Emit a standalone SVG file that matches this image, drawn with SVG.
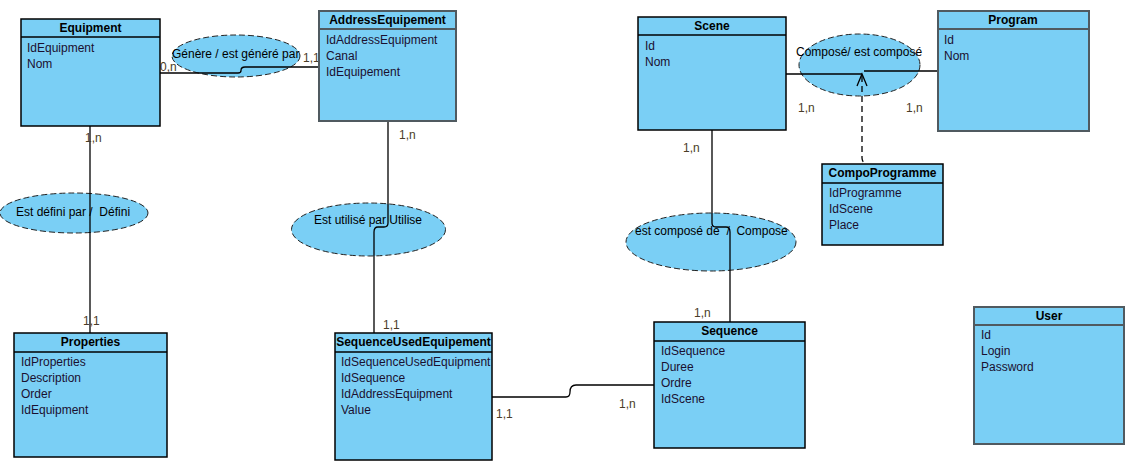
<svg xmlns="http://www.w3.org/2000/svg" width="1129" height="462" viewBox="0 0 1129 462">
<style>
.box{fill:#7acff5;stroke:#000;stroke-width:1.5}
.gbox{fill:#7acff5;stroke:#505a60;stroke-width:2}
.div{stroke:#000;stroke-width:1.5}
.gdiv{stroke:#505a60;stroke-width:2}
.title{font-family:"Liberation Sans",Arial,sans-serif;font-size:12px;font-weight:bold;fill:#000;text-anchor:middle}
.attr{font-family:"Liberation Sans",Arial,sans-serif;font-size:12px;fill:#1a1030}
.rel{fill:#7acff5;stroke:#222;stroke-width:1;stroke-dasharray:6,3}
.rtxt{font-family:"Liberation Sans",Arial,sans-serif;font-size:12px;fill:#000}
.card{font-family:"Liberation Sans",Arial,sans-serif;font-size:12px;fill:#4a3c28}
.line{fill:none;stroke:#000;stroke-width:1.3}
.dash{fill:none;stroke:#000;stroke-width:1.3;stroke-dasharray:6,4}
</style>
<rect width="1129" height="462" fill="#fff"/>

<g id="relations">
<g id="rel-genere"><ellipse class="rel" cx="236" cy="56" rx="64" ry="21"/></g>
<g id="rel-defini"><ellipse class="rel" cx="74" cy="213" rx="74" ry="20"/></g>
<g id="rel-utilise"><ellipse class="rel" cx="368.5" cy="229.5" rx="77" ry="26.5"/></g>
<g id="rel-compose"><ellipse class="rel" cx="711" cy="242" rx="85" ry="29"/></g>
<g id="rel-compose-prog"><ellipse class="rel" cx="859.5" cy="65" rx="60.5" ry="31"/></g>
</g>

<g id="connectors">
<path class="line" d="M160,73 H238 Q241,73 241,70.5 Q241,67 245,67 H319"/>
<path class="line" d="M90,126 V333"/>
<path class="line" d="M388,121 V223 Q388,227 384,227 H378 Q374,227 374,232 V333"/>
<path class="line" d="M712,130 V223 Q712,227 716,227 H726 Q730,227 730,232 V322"/>
<path class="line" d="M492,397 H566 Q570,397 570,392 Q570,385 576,385 H654"/>
<path class="line" d="M786,74 H862 M864,71 H938"/>
<path class="dash" d="M862,76 V158 Q862,162 866,164"/>
<path class="line" d="M857,86 L862,74 L867,86"/>
</g>

<g id="cardinalities">
<text class="card" x="160" y="71">0,n</text>
<text class="card" x="303" y="62">1,1</text>
<text class="card" x="85" y="142">1,n</text>
<text class="card" x="399" y="139">1,n</text>
<text class="card" x="683" y="152">1,n</text>
<text class="card" x="798" y="112">1,n</text>
<text class="card" x="906" y="112">1,n</text>
<text class="card" x="83" y="325">1,1</text>
<text class="card" x="383" y="329">1,1</text>
<text class="card" x="496" y="418">1,1</text>
<text class="card" x="619" y="408">1,n</text>
<text class="card" x="694" y="317">1,n</text>
</g>

<g id="relation-labels">
<text class="rtxt" x="172" y="57.5">Génère / est généré par</text>
<text class="rtxt" x="16" y="216" xml:space="preserve">Est défini par /  Défini</text>
<text class="rtxt" x="314" y="224">Est utilisé par Utilise</text>
<text class="rtxt" x="635" y="235" xml:space="preserve">est composé de  /  Compose</text>
<text class="rtxt" x="796" y="56">Composé/ est composé</text>
</g>

<g id="Equipment">
<rect class="box" x="21" y="19" width="139" height="107"/>
<line class="div" x1="21" y1="37" x2="160" y2="37"/>
<text class="title" x="90.5" y="31.5">Equipment</text>
<text class="attr" x="27" y="51.5">IdEquipment</text>
<text class="attr" x="27" y="67.5">Nom</text>
</g>

<g id="AddressEquipement">
<rect class="gbox" x="319" y="11" width="137" height="110"/>
<line class="gdiv" x1="319" y1="29" x2="456" y2="29"/>
<text class="title" x="387.5" y="24">AddressEquipement</text>
<text class="attr" x="326" y="44">IdAddressEquipment</text>
<text class="attr" x="326" y="60">Canal</text>
<text class="attr" x="326" y="76">IdEquipement</text>
</g>

<g id="Scene">
<rect class="box" x="638" y="17" width="148" height="113"/>
<line class="div" x1="638" y1="35" x2="786" y2="35"/>
<text class="title" x="712" y="30">Scene</text>
<text class="attr" x="645" y="50">Id</text>
<text class="attr" x="645" y="66">Nom</text>
</g>

<g id="Program">
<rect class="gbox" x="938" y="11" width="151" height="120"/>
<line class="gdiv" x1="938" y1="29" x2="1089" y2="29"/>
<text class="title" x="1013" y="24">Program</text>
<text class="attr" x="944" y="44">Id</text>
<text class="attr" x="944" y="60">Nom</text>
</g>

<g id="CompoProgramme">
<rect class="box" x="822" y="164" width="121" height="81"/>
<line class="div" x1="822" y1="183" x2="943" y2="183"/>
<text class="title" x="882.5" y="177">CompoProgramme</text>
<text class="attr" x="829" y="197">IdProgramme</text>
<text class="attr" x="829" y="213">IdScene</text>
<text class="attr" x="829" y="229">Place</text>
</g>

<g id="Properties">
<rect class="box" x="14" y="333" width="153" height="124"/>
<line class="div" x1="14" y1="352" x2="167" y2="352"/>
<text class="title" x="90.5" y="346">Properties</text>
<text class="attr" x="21" y="366">IdProperties</text>
<text class="attr" x="21" y="382">Description</text>
<text class="attr" x="21" y="398">Order</text>
<text class="attr" x="21" y="414">IdEquipment</text>
</g>

<g id="SequenceUsedEquipement">
<rect class="box" x="335" y="333" width="157" height="127"/>
<line class="div" x1="335" y1="352" x2="492" y2="352"/>
<text class="title" x="413.5" y="346">SequenceUsedEquipement</text>
<text class="attr" x="341" y="366">IdSequenceUsedEquipment</text>
<text class="attr" x="341" y="382">IdSequence</text>
<text class="attr" x="341" y="398">IdAddressEquipment</text>
<text class="attr" x="341" y="414">Value</text>
</g>

<g id="Sequence">
<rect class="box" x="654" y="322" width="151" height="126"/>
<line class="div" x1="654" y1="341" x2="805" y2="341"/>
<text class="title" x="729.5" y="335">Sequence</text>
<text class="attr" x="661" y="355">IdSequence</text>
<text class="attr" x="661" y="371">Duree</text>
<text class="attr" x="661" y="387">Ordre</text>
<text class="attr" x="661" y="403">IdScene</text>
</g>

<g id="User">
<rect class="gbox" x="974" y="307" width="150" height="137"/>
<line class="gdiv" x1="974" y1="325" x2="1124" y2="325"/>
<text class="title" x="1049" y="320">User</text>
<text class="attr" x="981" y="339">Id</text>
<text class="attr" x="981" y="355">Login</text>
<text class="attr" x="981" y="371">Password</text>
</g>
</svg>
